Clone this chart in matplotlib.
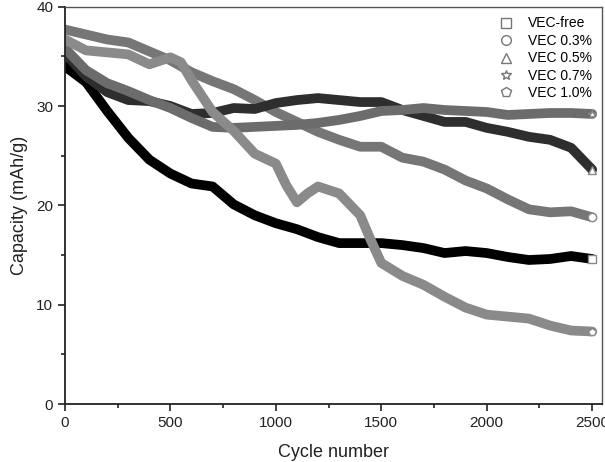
import matplotlib
matplotlib.use("Agg")
from matplotlib import pyplot as plt
from matplotlib.lines import Line2D

plt.rcParams['font.family'] = ['Liberation Sans', 'DejaVu Sans']

# cycle numbers (every 100 cycles)
cycles = [0, 100, 200, 300, 400, 500, 600, 700, 800, 900, 1000, 1100, 1200,
          1300, 1400, 1500, 1600, 1700, 1800, 1900, 2000, 2100, 2200, 2300, 2400, 2500]

cap_free = [34.0, 32.4, 29.5, 26.8, 24.6, 23.2, 22.2, 21.9, 20.1, 19.0, 18.2, 17.6, 16.8,
            16.2, 16.2, 16.2, 16.0, 15.7, 15.2, 15.4, 15.2, 14.8, 14.5, 14.6, 14.9, 14.6]
cap_03 = [37.7, 37.2, 36.7, 36.4, 35.5, 34.6, 33.4, 32.5, 31.7, 30.6, 29.4, 28.4, 27.4,
          26.6, 25.9, 25.9, 24.8, 24.4, 23.6, 22.5, 21.7, 20.6, 19.6, 19.3, 19.4, 18.8]
cap_05 = [35.3, 33.0, 31.4, 30.6, 30.5, 30.0, 29.2, 29.3, 29.8, 29.7, 30.3, 30.6, 30.8,
          30.6, 30.4, 30.4, 29.6, 29.0, 28.4, 28.4, 27.8, 27.4, 26.9, 26.6, 25.8, 23.6]
cap_07 = [35.8, 33.6, 32.3, 31.5, 30.6, 29.8, 28.8, 27.9, 27.8, 27.9, 28.0, 28.1, 28.3,
          28.6, 29.0, 29.5, 29.6, 29.8, 29.6, 29.5, 29.4, 29.1, 29.2, 29.3, 29.3, 29.2]

cycles_10 = [0, 100, 200, 300, 400, 500, 550, 600, 700, 800, 900, 1000, 1050, 1100, 1150,
             1200, 1300, 1400, 1450, 1500, 1600, 1700, 1800, 1900, 2000, 2100, 2200, 2300, 2400, 2500]
cap_10 = [36.7, 35.6, 35.4, 35.2, 34.2, 34.9, 34.4, 32.6, 29.4, 27.5, 25.2, 24.2, 22.0, 20.3, 21.2,
          21.9, 21.2, 19.0, 16.5, 14.2, 12.9, 12.0, 10.8, 9.7, 9.0, 8.8, 8.6, 7.9, 7.4, 7.3]

labels = ["VEC-free", "VEC 0.3%", "VEC 0.5%", "VEC 0.7%", "VEC 1.0%"]
markers = ["s", "o", "^", "*", "p"]
colors = ["#000000", "#767676", "#2e2e2e", "#6c6c6c", "#8a8a8a"]

fig = plt.figure(figsize=(6.05, 4.62), dpi=100)
ax = fig.add_axes([0.1074, 0.1255, 0.8871, 0.86])

series = [(cycles, cap_free), (cycles, cap_03), (cycles, cap_05), (cycles, cap_07), (cycles_10, cap_10)]
for (x, y), c, m in zip(series, colors, markers):
    ax.plot(x, y, color=c, lw=7, solid_joinstyle='round', solid_capstyle='round')
    ax.plot(x[-1:], y[-1:], linestyle='none', marker=m, ms=6, mfc='white', mec='#888888', mew=1)

handles = [Line2D([], [], linestyle='none', marker=m, ms=7, mfc='white', mec='#777777', mew=1)
           for m in markers]
ax.legend(handles, labels, loc='upper right', frameon=False, fontsize=10,
          labelspacing=0.25, handletextpad=0.6, borderaxespad=0.3,
          bbox_to_anchor=(1.0, 1.0))

ax.set_xlim(0, 2545)
ax.set_ylim(0, 40)
ax.set_xticks([0, 500, 1000, 1500, 2000, 2500])
ax.set_xticks([250, 750, 1250, 1750, 2250], minor=True)
ax.set_yticks([0, 10, 20, 30, 40])
ax.set_yticks([5, 15, 25, 35], minor=True)
ax.tick_params(which='both', direction='out', labelsize=11, colors='#222222', width=1.2)
ax.tick_params(which='major', length=5)
ax.tick_params(which='minor', length=3)
for side in ['left', 'bottom']:
    ax.spines[side].set_linewidth(1.3)
    ax.spines[side].set_color('#222222')
for side in ['top', 'right']:
    ax.spines[side].set_linewidth(1.0)
    ax.spines[side].set_color('#555555')

ax.set_xlabel("Cycle number", fontsize=13, color='#222222', labelpad=10)
ax.set_ylabel("Capacity (mAh/g)", fontsize=13, color='#222222', labelpad=6)

fig.savefig("out.png", dpi=100)
